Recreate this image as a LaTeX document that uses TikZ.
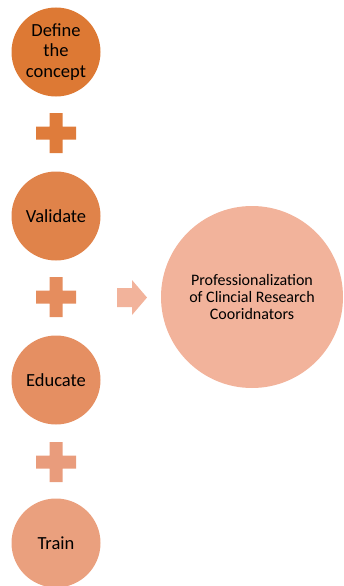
\documentclass[tikz,border=0pt]{standalone}
\usepackage{fontspec}
\setmainfont{Carlito}
\definecolor{stepA}{HTML}{DD7934}
\definecolor{stepB}{HTML}{E0834A}
\definecolor{stepC}{HTML}{E58F62}
\definecolor{stepD}{HTML}{EAA07E}
\definecolor{goalCol}{HTML}{F2B39B}
\definecolor{plusA}{HTML}{DF7C3B}
\definecolor{plusB}{HTML}{E58D5E}
\definecolor{plusC}{HTML}{E99C7C}
\tikzset{
  stepcirc/.style={circle,draw=none,minimum size=89pt,inner sep=0pt,
                   align=center,font=\fontsize{18.5}{20.5}\selectfont},
  goalcirc/.style={circle,draw=none,fill=goalCol,minimum size=182pt,
                   inner sep=0pt,align=center,
                   font=\fontsize{16}{17.5}\selectfont}
}
\begin{document}
\begin{tikzpicture}[x=1pt,y=-1pt]

\useasboundingbox (0,0) rectangle (343,586);

\node[stepcirc,fill=stepA]
     at (56,52) (defCirc)
     {Define\\the\\concept};
\node[stepcirc,fill=stepB]
     at (56,216) (valCirc)
     {Validate};
\node[stepcirc,fill=stepC]
     at (56,380) (eduCirc)
     {Educate};
\node[stepcirc,fill=stepD]
     at (56,543) (trnCirc)
     {Train};

\node[goalcirc]
     at (252,297) (profCirc)
     {Professionalization\\of Clincial Research\\Cooridnators};

\fill[plusA] (49.5,113) -- (62.5,113) -- (62.5,126.5)
     -- (76,126.5) -- (76,139.5) -- (62.5,139.5)
     -- (62.5,153) -- (49.5,153) -- (49.5,139.5)
     -- (36,139.5) -- (36,126.5) -- (49.5,126.5) -- cycle;
\fill[plusB] (49.5,277) -- (62.5,277) -- (62.5,290.5)
     -- (76,290.5) -- (76,303.5) -- (62.5,303.5)
     -- (62.5,317) -- (49.5,317) -- (49.5,303.5)
     -- (36,303.5) -- (36,290.5) -- (49.5,290.5) -- cycle;
\fill[plusC] (49.5,442) -- (62.5,442) -- (62.5,455.5)
     -- (76,455.5) -- (76,468.5) -- (62.5,468.5)
     -- (62.5,482) -- (49.5,482) -- (49.5,468.5)
     -- (36,468.5) -- (36,455.5) -- (49.5,455.5) -- cycle;

\fill[goalCol] (117,288) -- (132,288) -- (132,280)
     -- (147,297.5) -- (132,315) -- (132,307)
     -- (117,307) -- cycle;

\end{tikzpicture}
\end{document}
